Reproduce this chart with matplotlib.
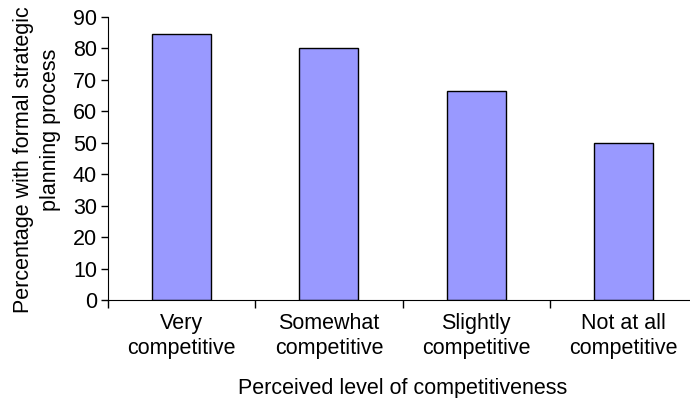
import matplotlib.pyplot as plt

categories = ["Very\ncompetitive", "Somewhat\ncompetitive", "Slightly\ncompetitive", "Not at all\ncompetitive"]
values = [84.5, 80, 66.6, 50]
y_ticks = [0, 10, 20, 30, 40, 50, 60, 70, 80, 90]
y_label_lines = ["Percentage with formal strategic", "planning process"]

plt.rcParams["font.family"] = ["Liberation Sans", "DejaVu Sans"]
plt.rcParams["font.size"] = 15.5

W, H = 690, 398
fig = plt.figure(figsize=(W / 100, H / 100), dpi=100)
ax = fig.add_axes([108 / W, 1 - 300 / H, 589 / W, 283 / H])

x = range(len(categories))
ax.bar(x, values, width=0.40, color="#9999ff", edgecolor="black", linewidth=1)

ax.set_xlim(-0.5, len(categories) - 0.5)
ax.set_ylim(0, 90)
ax.set_yticks(y_ticks)

# category labels between the boundary ticks
ax.set_xticks([i - 0.5 for i in range(len(categories) + 1)])
ax.set_xticklabels([])
ax.set_xticks(list(x), minor=True)
ax.set_xticklabels(categories, minor=True, linespacing=1.22)
ax.tick_params(axis="x", which="minor", length=0, pad=9.5)
ax.tick_params(axis="x", which="major", length=6, width=1, direction="out")
ax.tick_params(axis="y", length=5, width=1, direction="out", pad=3)

for side in ["top", "right"]:
    ax.spines[side].set_visible(False)

ax.set_xlabel("Perceived level of competitiveness", labelpad=14)

# y label: two lines, second one sits a bit higher than the first
fig.text(29 / W, 1 - 159.5 / H, y_label_lines[0], rotation=90, rotation_mode="anchor",
         ha="center", va="baseline")
fig.text(56 / W, 1 - 130 / H, y_label_lines[1], rotation=90, rotation_mode="anchor",
         ha="center", va="baseline")

fig.savefig("out.png", dpi=100)
